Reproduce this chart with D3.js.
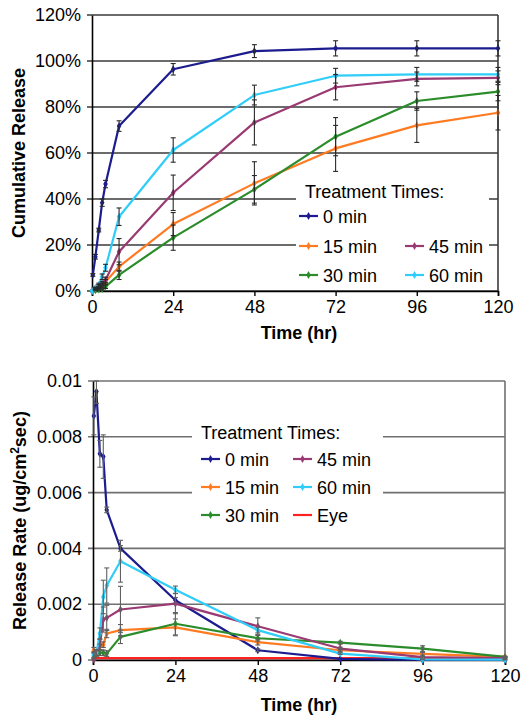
<!DOCTYPE html>
<html><head><meta charset="utf-8">
<script src="https://cdn.jsdelivr.net/npm/d3@7"></script>
<style>
body{margin:0;background:#fff;}
svg{display:block;font-family:"Liberation Sans",Arial,sans-serif;}
</style></head>
<body><svg id="c" width="530" height="723"></svg>
<script>
// ---------- Data: top chart (Cumulative Release, %) ----------
const topSeriesNames = ["0 min","15 min","30 min","45 min","60 min"];
const topTimes0 = [0.25, 1, 2, 3, 4, 8, 24, 48, 72, 96, 120];
const topTimes = [0, 1, 2, 3, 4, 8, 24, 48, 72, 96, 120];
const cum0   = [7.0, 14.9, 26.5, 38.4, 46.5, 71.7, 96.4, 104.3, 105.5, 105.5, 105.5];
const cum0e  = [0.6, 1.0, 0.8, 1.6, 1.6, 2.3, 2.5, 2.8, 3.3, 3.3, 3.3];
const cum15  = [0, 0.9, 1.6, 2.6, 4.0, 10.6, 29.1, 46.8, 62.0, 72.0, 77.5];
const cum15e = [0, 0.3, 0.5, 0.8, 1.0, 2.0, 5.0, 9.4, 10.0, 7.4, 7.5];
const cum30  = [0, 0.3, 0.6, 0.9, 1.9, 7.0, 23.2, 44.2, 67.1, 82.6, 86.7];
const cum30e = [0, 0.2, 0.3, 0.5, 0.8, 2.0, 5.5, 6.0, 8.3, 4.0, 4.0];
const cum45  = [0, 1.2, 2.2, 3.3, 4.8, 17.1, 42.7, 73.3, 88.6, 92.2, 92.7];
const cum45e = [0, 0.4, 0.6, 0.9, 1.2, 5.7, 7.7, 9.8, 5.5, 3.0, 3.0];
const cum60  = [0, 1.2, 2.6, 6.2, 10.1, 32.3, 61.3, 85.2, 93.6, 94.2, 94.2];
const cum60e = [0, 0.4, 0.8, 1.2, 1.5, 3.8, 5.3, 4.3, 3.2, 3.0, 3.0];
const topYTicks = [0, 20, 40, 60, 80, 100, 120];
const xTicks = [0, 24, 48, 72, 96, 120];

// ---------- Data: bottom chart (Release Rate) ----------
const botTimes = [0.25, 1, 2, 3, 4, 8, 24, 48, 72, 96, 120];
const rate0   = [0.00875, 0.00962, 0.00739, 0.00729, 0.00538, 0.00400, 0.00214, 0.00035, 0.00004, 0.0, 0.0];
const rate0e  = [0.00068, 0.00042, 0.00048, 0.00078, 0.0001, 0.0001, 0.0001, 0.00005, 0, 0, 0];
const rate15  = [0.00035, 0.00028, 0.00047, 0.00055, 0.00095, 0.00107, 0.00117, 0.00064, 0.00035, 0.00022, 0.00011];
const rate15e = [0.0001, 0.0001, 0.0001, 0.0001, 0.00015, 0.0002, 0.0003, 0.0001, 0.00005, 0.00005, 0.00002];
const rate30  = [0.00016, 0.00023, 0.00026, 0.00026, 0.00023, 0.00083, 0.00130, 0.00078, 0.00062, 0.00041, 0.00011];
const rate30e = [0.0001, 0.0001, 0.0001, 0.0001, 0.0001, 0.00024, 0.0004, 0.0001, 0.00005, 0.0001, 0.00002];
const rate45  = [0.00002, 0.00026, 0.00055, 0.00145, 0.00151, 0.00181, 0.00202, 0.00121, 0.00041, 0.0001, 0.00007];
const rate45e = [0.00005, 0.0001, 0.0002, 0.00045, 0.00045, 0.00083, 0.00036, 0.0003, 0.00005, 0.00003, 0.00002];
const rate60  = [0.0002, 0.00026, 0.00095, 0.00226, 0.00267, 0.00354, 0.00252, 0.00107, 0.00023, 0.00002, 0.00001];
const rate60e = [0.0001, 0.0001, 0.0002, 0.0006, 0.00063, 0.00075, 0.00013, 0.0001, 0.00003, 0.00001, 0.00001];
const eyeTimes = [0.25, 120];
const rateEye = [0.00007, 0.00007];
const botYTicks = [0, 0.002, 0.004, 0.006, 0.008, 0.01];
const botYTickLabels = ["0", "0.002", "0.004", "0.006", "0.008", "0.01"];

const colors = {"0 min":"#1c1c8f","15 min":"#ff7b22","30 min":"#2a8c2a","45 min":"#9a3a72","60 min":"#2fcdf8","Eye":"#ff2222"};

const svg = d3.select("#c");
const FONT = 18;

function drawChart(cfg){
  const g = svg.append("g");
  const x = d3.scaleLinear().domain([0,120]).range([cfg.left, cfg.right]);
  const y = d3.scaleLinear().domain([0, cfg.ymax]).range([cfg.bottom, cfg.top]);

  // gridlines (with short tick extension to left)
  g.append("g").selectAll("line").data(cfg.yTicks).join("line")
    .attr("x1", cfg.left - 5).attr("x2", cfg.right)
    .attr("y1", d => y(d)).attr("y2", d => y(d))
    .attr("stroke", cfg.gridColor).attr("stroke-width", 1.6);
  // right border
  g.append("line").attr("x1", cfg.right).attr("x2", cfg.right)
    .attr("y1", cfg.top).attr("y2", cfg.bottom)
    .attr("stroke", cfg.gridColor).attr("stroke-width", 1.6);

  // legend background (hides gridlines)
  g.append("rect").attr("x", cfg.legend.box[0]).attr("y", cfg.legend.box[1])
    .attr("width", cfg.legend.box[2]).attr("height", cfg.legend.box[3]).attr("fill", "#fff");

  // axes
  const yAxis = d3.axisLeft(y).tickValues(cfg.yTicks).tickSize(0).tickPadding(11)
    .tickFormat((d,i) => cfg.yLabels[i]);
  const ya = g.append("g").attr("transform", `translate(${cfg.left},0)`).call(yAxis);
  ya.select(".domain").attr("stroke", "#000").attr("stroke-width", 1.6);
  ya.selectAll("text").attr("font-size", FONT).attr("fill", "#000").attr("font-family", "Liberation Sans, Arial, sans-serif");

  const xAxis = d3.axisBottom(x).tickValues(xTicks).tickSize(5).tickPadding(4);
  const xa = g.append("g").attr("transform", `translate(0,${cfg.bottom})`).call(xAxis);
  xa.select(".domain").attr("stroke", "#000").attr("stroke-width", 1.6);
  xa.selectAll(".tick line").attr("stroke", "#000").attr("stroke-width", 1.4);
  xa.selectAll("text").attr("font-size", FONT).attr("fill", "#000").attr("font-family", "Liberation Sans, Arial, sans-serif");

  // axis titles
  g.append("text").attr("x", 299).attr("y", cfg.xTitleY).attr("text-anchor", "middle")
    .attr("font-size", FONT).attr("font-weight", "bold").text("Time (hr)");
  const yt = g.append("text").attr("transform", `translate(${cfg.yTitleX},${(cfg.top+cfg.bottom)/2}) rotate(-90)`)
    .attr("text-anchor", "middle").attr("font-size", FONT).attr("font-weight", "bold");
  cfg.yTitle(yt);

  // series
  const line = d3.line().x(d => x(d.t)).y(d => y(d.v));
  cfg.series.forEach(s => {
    const pts = s.t.map((t,i) => ({t, v: s.v[i], e: s.e ? s.e[i] : 0}));
    g.append("path").datum(pts).attr("d", line).attr("fill", "none")
      .attr("stroke", colors[s.name]).attr("stroke-width", 2.2).attr("stroke-linejoin", "round");
    if (s.marker !== false) {
      g.append("g").selectAll("path").data(pts).join("path")
        .attr("d", d3.symbol(d3.symbolDiamond, 18)())
        .attr("transform", d => `translate(${x(d.t)},${y(d.v)})`)
        .attr("fill", colors[s.name]);
    }
  });
  // error bars
  cfg.series.forEach(s => {
    if (!s.e) return;
    const pts = s.t.map((t,i) => ({t, v: s.v[i], e: s.e[i]})).filter(d => d.e > 0);
    const eg = g.append("g").attr("stroke", cfg.errColor).attr("stroke-width", 1.1);
    pts.forEach(d => {
      const x0 = x(d.t), y1 = y(Math.min(cfg.ymax, d.v + d.e)), y2 = y(Math.max(0, d.v - d.e));
      eg.append("line").attr("x1", x0).attr("x2", x0).attr("y1", y1).attr("y2", y2);
      eg.append("line").attr("x1", x0-2.5).attr("x2", x0+2.5).attr("y1", y1).attr("y2", y1);
      eg.append("line").attr("x1", x0-2.5).attr("x2", x0+2.5).attr("y1", y2).attr("y2", y2);
    });
  });

  // legend
  const L = cfg.legend;
  g.append("text").attr("x", L.titleX).attr("y", L.titleY).attr("font-size", FONT).text("Treatment Times:");
  L.items.forEach(it => {
    g.append("line").attr("x1", it.x).attr("x2", it.x + 19).attr("y1", it.y).attr("y2", it.y)
      .attr("stroke", colors[it.name]).attr("stroke-width", 2.2);
    if (it.name !== "Eye") {
      g.append("path").attr("d", d3.symbol(d3.symbolDiamond, 18)())
        .attr("transform", `translate(${it.x + 9.5},${it.y})`).attr("fill", colors[it.name]);
    }
    g.append("text").attr("x", it.x + 24).attr("y", it.y + 6.5).attr("font-size", FONT).text(it.name);
  });
}

drawChart({
  left: 92, right: 498, top: 15, bottom: 291, ymax: 120,
  yTicks: topYTicks, yLabels: topYTicks.map(d => d + "%"),
  gridColor: "#3a3a3a", errColor: "#2a2a2a",
  xTitleY: 339, yTitleX: 25,
  yTitle: t => t.text("Cumulative Release"),
  series: [
    {name:"0 min", t: topTimes0, v: cum0, e: cum0e},
    {name:"15 min", t: topTimes, v: cum15, e: cum15e},
    {name:"30 min", t: topTimes, v: cum30, e: cum30e},
    {name:"45 min", t: topTimes, v: cum45, e: cum45e},
    {name:"60 min", t: topTimes, v: cum60, e: cum60e}
  ],
  legend: {
    box: [296, 181, 193, 108], titleX: 305, titleY: 198,
    items: [
      {name:"0 min", x: 299, y: 216},
      {name:"15 min", x: 299, y: 246},
      {name:"30 min", x: 299, y: 275},
      {name:"45 min", x: 405, y: 246},
      {name:"60 min", x: 405, y: 275}
    ]
  }
});

drawChart({
  left: 93, right: 505, top: 381, bottom: 660, ymax: 0.01,
  yTicks: botYTicks, yLabels: botYTickLabels,
  gridColor: "#707070", errColor: "#606060",
  xTitleY: 711, yTitleX: 26,
  yTitle: t => { t.append("tspan").text("Release Rate (ug/cm");
                 t.append("tspan").attr("font-size", 12).attr("dy", -7).text("2");
                 t.append("tspan").attr("dy", 7).text("sec)"); },
  series: [
    {name:"Eye", t: eyeTimes, v: rateEye, marker: false},
    {name:"0 min", t: botTimes, v: rate0, e: rate0e},
    {name:"15 min", t: botTimes, v: rate15, e: rate15e},
    {name:"30 min", t: botTimes, v: rate30, e: rate30e},
    {name:"45 min", t: botTimes, v: rate45, e: rate45e},
    {name:"60 min", t: botTimes, v: rate60, e: rate60e}
  ],
  legend: {
    box: [192, 416, 191, 114], titleX: 201, titleY: 439,
    items: [
      {name:"0 min", x: 201, y: 459},
      {name:"15 min", x: 201, y: 487},
      {name:"30 min", x: 201, y: 515},
      {name:"45 min", x: 293, y: 459},
      {name:"60 min", x: 293, y: 487},
      {name:"Eye", x: 293, y: 515}
    ]
  }
});
</script></body></html>
